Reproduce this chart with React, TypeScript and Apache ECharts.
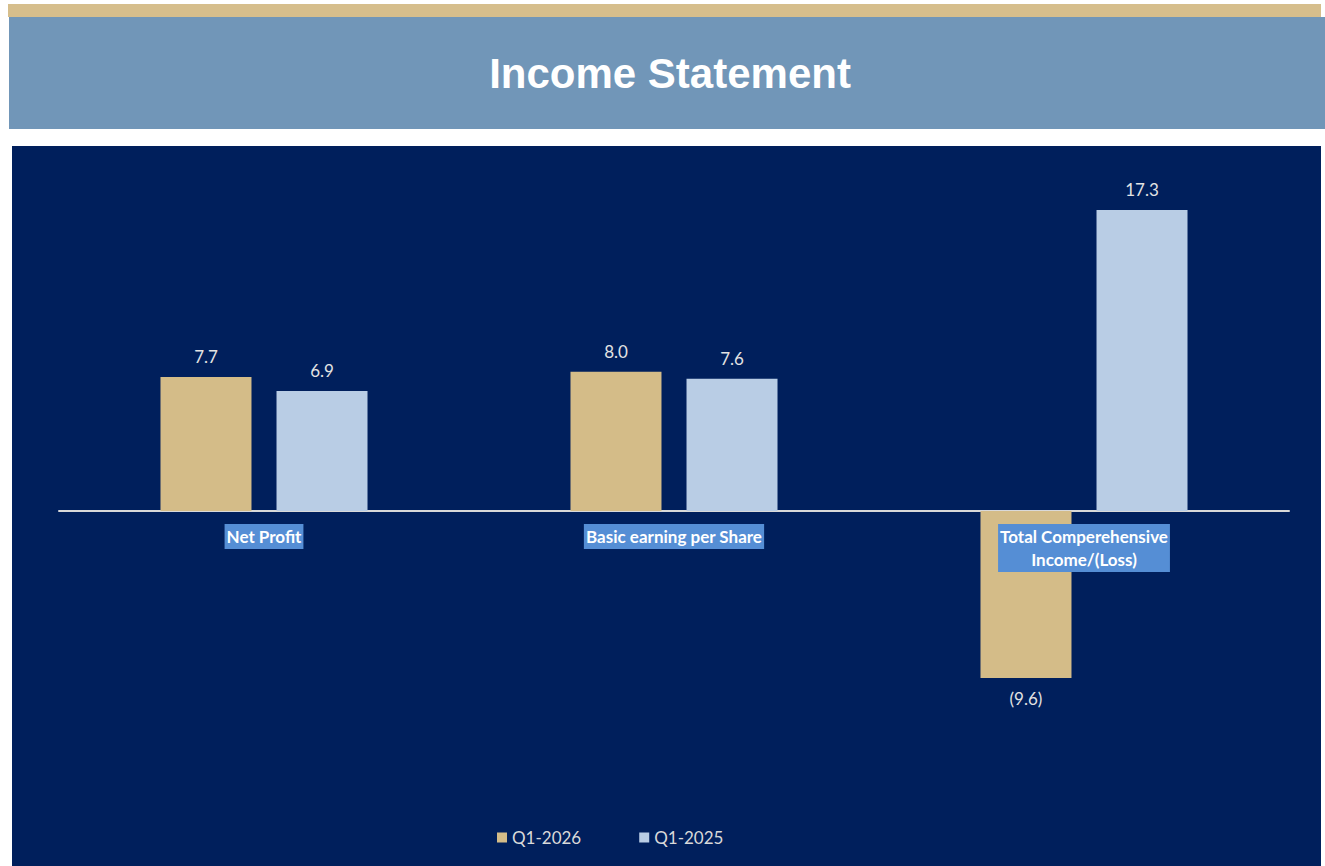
import React, { useEffect, useRef } from "react";
import * as echarts from "echarts";

const categories = ["Net Profit", "Basic earning per Share", "Total Comperehensive\nIncome/(Loss)"];
const seriesNames = ["Q1-2026", "Q1-2025"];
const q1_2026 = [7.7, 8.0, -9.6];
const q1_2025 = [6.9, 7.6, 17.3];
const titleText = "Income Statement";

const GOLD = "#D4BC88";
const LIGHT = "#B9CDE5";
const NAVY = "#001F5C";
const FONT = "Lato, 'Open Sans', sans-serif";

function fmt(v: number): string {
  return v < 0 ? `(${Math.abs(v).toFixed(1)})` : v.toFixed(1);
}

function makeData(vals: number[]) {
  return vals.map((v) => ({
    value: v,
    label: { position: v < 0 ? "bottom" : "top" },
  }));
}

export default function App() {
  const ref = useRef<HTMLDivElement>(null);
  useEffect(() => {
    if (!ref.current) return;
    const chart = echarts.init(ref.current, null, { renderer: "svg" });
    const labelCommon = {
      show: true,
      distance: 12,
      color: "#E3E3E3",
      fontFamily: FONT,
      fontSize: 17,
      formatter: (p: any) => fmt(p.value),
    };
    chart.setOption({
      animation: false,
      backgroundColor: "#FFFFFF",
      graphic: [
        { type: "rect", shape: { x: 8, y: 4, width: 1313, height: 13 }, style: { fill: "#D6BE8C" }, z: 0 },
        { type: "rect", shape: { x: 9, y: 17, width: 1316, height: 112 }, style: { fill: "#7196B8" }, z: 0 },
        {
          type: "text",
          x: 670,
          y: 73,
          style: {
            text: titleText,
            fill: "#FFFFFF",
            font: "bold 42px 'Liberation Sans', Arial, sans-serif",
            align: "center",
            verticalAlign: "middle",
          },
          z: 1,
        },
        { type: "rect", shape: { x: 12, y: 146, width: 1309, height: 720 }, style: { fill: NAVY }, z: -10 },
      ],
      grid: [
        { left: 59, right: 36, top: 163, bottom: 94, containLabel: false },
        { left: 59, right: 36, top: 163, bottom: 355, containLabel: false },
      ],
      legend: {
        data: seriesNames,
        left: 497,
        top: 829,
        padding: 0,
        itemWidth: 10,
        itemHeight: 10,
        itemGap: 58,
        icon: "rect",
        textStyle: { color: "#D9D9D9", fontFamily: FONT, fontSize: 17 },
      },
      xAxis: [
        {
          type: "category",
          gridIndex: 0,
          data: categories,
          axisLine: { onZero: true, lineStyle: { color: "#D9D9D9", width: 2 } },
          axisTick: { show: false },
          axisLabel: { show: false },
        },
        {
          type: "category",
          gridIndex: 1,
          data: categories,
          axisLine: { show: false },
          axisTick: { show: false },
          axisLabel: {
            interval: 0,
            margin: 13,
            color: "#FFFFFF",
            fontFamily: FONT,
            fontWeight: "bold",
            fontSize: 17,
            lineHeight: 23,
            backgroundColor: "#558ED5",
            padding: [1, 2],
            align: "center",
          },
          z: 10,
        },
      ],
      yAxis: [
        { type: "value", gridIndex: 0, min: -15, max: 20, show: false, splitLine: { show: false } },
        { type: "value", gridIndex: 1, min: 0, max: 20, show: false, splitLine: { show: false } },
      ],
      series: [
        {
          name: seriesNames[0],
          type: "bar",
          data: makeData(q1_2026),
          itemStyle: { color: GOLD },
          barWidth: 91,
          barGap: "27.5%",
          label: labelCommon,
          z: 2,
        },
        {
          name: seriesNames[1],
          type: "bar",
          data: makeData(q1_2025),
          itemStyle: { color: LIGHT },
          barWidth: 91,
          barGap: "27.5%",
          label: labelCommon,
          z: 2,
        },
      ],
    });
    return () => chart.dispose();
  }, []);
  return (
    <div
      ref={ref}
      style={{ position: "absolute", left: 0, top: 0, width: 1325, height: 866 }}
    />
  );
}
